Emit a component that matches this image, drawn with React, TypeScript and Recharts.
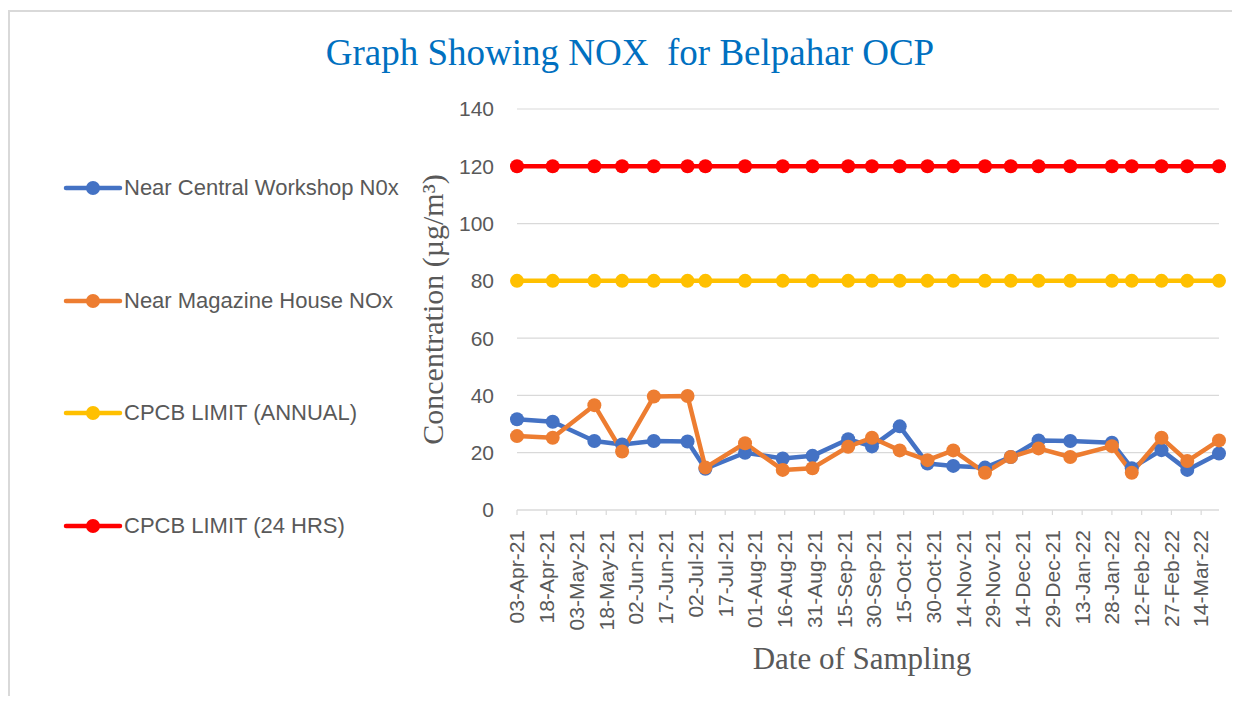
import React from 'react';
import { LineChart, Line, XAxis, YAxis, CartesianGrid } from 'recharts';

// sampling dates
const sampleDates = [
  '03-Apr-21', '21-Apr-21', '12-May-21', '26-May-21', '11-Jun-21', '28-Jun-21',
  '07-Jul-21', '27-Jul-21', '15-Aug-21', '30-Aug-21', '17-Sep-21', '29-Sep-21',
  '13-Oct-21', '27-Oct-21', '09-Nov-21', '25-Nov-21', '08-Dec-21', '22-Dec-21',
  '07-Jan-22', '28-Jan-22', '07-Feb-22', '22-Feb-22', '07-Mar-22', '23-Mar-22',
];

const centralWorkshop = [
  31.7, 30.8, 24.1, 22.9, 24.1, 23.9, 14.4, 20.0, 18.0, 18.9, 24.7, 22.2,
  29.2, 16.2, 15.4, 14.8, 18.5, 24.3, 24.1, 23.5, 14.6, 20.9, 14.0, 19.7,
];

const magazineHouse = [
  25.8, 25.2, 36.6, 20.4, 39.6, 39.8, 14.8, 23.3, 14.0, 14.6, 22.1, 25.2,
  20.8, 17.4, 20.8, 13.0, 18.5, 21.5, 18.5, 22.3, 13.0, 25.2, 17.1, 24.3,
];

const annualLimit = [
  80, 80, 80, 80, 80, 80, 80, 80, 80, 80, 80, 80,
  80, 80, 80, 80, 80, 80, 80, 80, 80, 80, 80, 80,
];

const dailyLimit = [
  120, 120, 120, 120, 120, 120, 120, 120, 120, 120, 120, 120,
  120, 120, 120, 120, 120, 120, 120, 120, 120, 120, 120, 120,
];

const tickLabels = [
  '03-Apr-21', '18-Apr-21', '03-May-21', '18-May-21', '02-Jun-21', '17-Jun-21',
  '02-Jul-21', '17-Jul-21', '01-Aug-21', '16-Aug-21', '31-Aug-21', '15-Sep-21',
  '30-Sep-21', '15-Oct-21', '30-Oct-21', '14-Nov-21', '29-Nov-21', '14-Dec-21',
  '29-Dec-21', '13-Jan-22', '28-Jan-22', '12-Feb-22', '27-Feb-22', '14-Mar-22',
];

const yTicks = [0, 20, 40, 60, 80, 100, 120, 140];

const series = [
  { key: 'central', name: 'Near Central Workshop N0x', color: '#4472C4' },
  { key: 'magazine', name: 'Near Magazine House NOx', color: '#ED7D31' },
  { key: 'annual', name: 'CPCB LIMIT (ANNUAL)', color: '#FFC000' },
  { key: 'daily', name: 'CPCB LIMIT (24 HRS)', color: '#FF0000' },
];

const MONTHS = ['Jan', 'Feb', 'Mar', 'Apr', 'May', 'Jun', 'Jul', 'Aug', 'Sep', 'Oct', 'Nov', 'Dec'];
const DAY_MS = 86400000;

// "03-Apr-21" -> whole days since epoch (UTC)
const toDay = (label: string): number => {
  const [dd, mon, yy] = label.split('-');
  return Date.UTC(2000 + Number(yy), MONTHS.indexOf(mon), Number(dd)) / DAY_MS;
};

const fmtDay = (day: number): string => {
  const d = new Date(day * DAY_MS);
  return `${String(d.getUTCDate()).padStart(2, '0')}-${MONTHS[d.getUTCMonth()]}-${String(d.getUTCFullYear()).slice(2)}`;
};

const data = sampleDates.map((d, i) => ({
  day: toDay(d),
  central: centralWorkshop[i],
  magazine: magazineHouse[i],
  annual: annualLimit[i],
  daily: dailyLimit[i],
}));

const tickDays = tickLabels.map(toDay);

const SANS = '"Liberation Sans", Arial, sans-serif';
const SERIF = '"Liberation Serif", "Times New Roman", serif';
const TEXT = '#595959';
const GRID = '#D9D9D9';

function DateTick({ x, y, payload }: any) {
  const ty = y + 13;
  return (
    <text
      x={x}
      y={ty}
      transform={`rotate(-90, ${x}, ${ty})`}
      textAnchor="end"
      dy="0.35em"
      fill={TEXT}
      fontSize={21}
      fontFamily={SANS}
    >
      {fmtDay(payload.value)}
    </text>
  );
}

function LegendBlock() {
  const rows = [180, 293, 405, 518];
  return (
    <>
      {series.map((s, i) => (
        <div
          key={s.key}
          style={{
            position: 'absolute',
            left: 55,
            top: rows[i] - 15,
            height: 30,
            display: 'flex',
            alignItems: 'center',
            fontFamily: SANS,
            fontSize: 22,
            color: TEXT,
            whiteSpace: 'nowrap',
          }}
        >
          <svg width={60} height={30} style={{ display: 'block' }}>
            <line x1={3} y1={15} x2={57} y2={15} stroke={s.color} strokeWidth={4.5} strokeLinecap="round" />
            <circle cx={30} cy={15} r={7} fill={s.color} />
          </svg>
          <span style={{ marginLeft: 1 }}>{s.name}</span>
        </div>
      ))}
    </>
  );
}

export default function App() {
  return (
    <div style={{ position: 'relative', width: 1224, height: 688, background: '#fff' }}>
      {/* chart area frame, only the left and top edges show in the crop */}
      <div
        style={{
          position: 'absolute',
          left: 0,
          top: 2,
          right: -20,
          bottom: -20,
          borderLeft: `2px solid ${GRID}`,
          borderTop: `2px solid ${GRID}`,
        }}
      />
      <div
        style={{
          position: 'absolute',
          left: 0,
          width: 1244,
          top: 26,
          textAlign: 'center',
          fontFamily: SERIF,
          fontSize: 37,
          lineHeight: '37px',
          color: '#0070C0',
          whiteSpace: 'pre',
        }}
      >
        {'Graph Showing NOX  for Belpahar OCP'}
      </div>
      <LegendBlock />
      <div style={{ position: 'absolute', left: 0, top: 0 }}>
        <LineChart
          width={1224}
          height={688}
          data={data}
          margin={{ top: 101, right: 13, bottom: 26, left: 409 }}
        >
          <CartesianGrid vertical={false} stroke={GRID} strokeWidth={1.2} />
          <XAxis
            type="number"
            dataKey="day"
            domain={[toDay('03-Apr-21'), toDay('23-Mar-22')]}
            ticks={tickDays}
            interval={0}
            tick={<DateTick />}
            tickSize={5}
            axisLine={{ stroke: GRID, strokeWidth: 1.2 }}
            tickLine={{ stroke: GRID, strokeWidth: 1.2 }}
            height={160}
            label={{
              value: 'Date of Sampling',
              position: 'insideBottom',
              offset: 1,
              dx: -6,
              fill: TEXT,
              fontSize: 31,
              fontFamily: SERIF,
            }}
          />
          <YAxis
            type="number"
            domain={[0, 140]}
            ticks={yTicks}
            width={100}
            axisLine={false}
            tickLine={false}
            tickSize={0}
            tickMargin={23}
            tick={{ fill: TEXT, fontSize: 21, fontFamily: SANS }}
            label={{
              value: 'Concentration (µg/m³)',
              angle: -90,
              position: 'insideLeft',
              offset: 15,
              style: { textAnchor: 'middle' },
              fill: TEXT,
              fontSize: 30,
              fontFamily: SERIF,
            }}
          />
          {series.map((s) => (
            <Line
              key={s.key}
              type="linear"
              dataKey={s.key}
              name={s.name}
              stroke={s.color}
              strokeWidth={4.5}
              strokeLinejoin="round"
              dot={{ r: 7, fill: s.color, stroke: s.color, strokeWidth: 0 }}
              activeDot={false}
              isAnimationActive={false}
            />
          ))}
        </LineChart>
      </div>
    </div>
  );
}
